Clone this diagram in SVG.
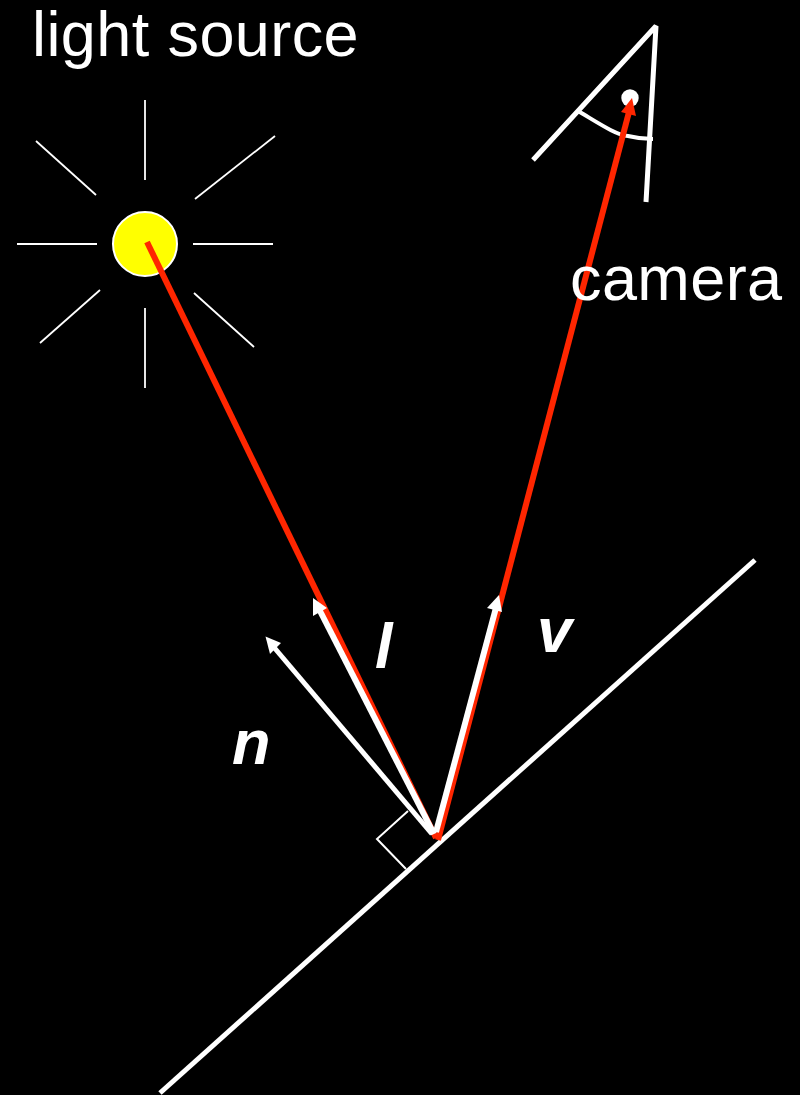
<svg xmlns="http://www.w3.org/2000/svg" width="800" height="1095" viewBox="0 0 800 1095">
<style>
.ray{stroke:#fff;stroke-width:1.8;fill:none}
.w{stroke:#fff;stroke-width:5;fill:none}
.shaft{stroke:#fff;stroke-width:6;fill:none}
.arc{stroke:#fff;stroke-width:4;fill:none}
.thin{stroke:#fff;stroke-width:2;fill:none}
.red{stroke:#ff2600;stroke-width:6;fill:none}
.lab{font-family:"Liberation Sans",Arial,sans-serif;fill:#fff;font-size:63px;letter-spacing:.4px}
.sym{font-family:"Liberation Sans",Arial,sans-serif;fill:#fff;font-size:63px;font-weight:bold;font-style:italic}
</style>
<rect width="800" height="1095" fill="#000"/>
<g id="sun">
<line class="ray" x1="145" y1="100" x2="145" y2="180"/>
<line class="ray" x1="145" y1="308" x2="145" y2="388"/>
<line class="ray" x1="17" y1="244" x2="97" y2="244"/>
<line class="ray" x1="193" y1="244" x2="273" y2="244"/>
<line class="ray" x1="36" y1="141" x2="96" y2="195"/>
<line class="ray" x1="275" y1="136" x2="195" y2="199"/>
<line class="ray" x1="100" y1="290" x2="40" y2="343"/>
<line class="ray" x1="194" y1="293" x2="254" y2="347"/>
<circle cx="145" cy="244" r="32" fill="#ffff00" stroke="#fff" stroke-width="2"/>
</g>
<g id="camera">
<path class="w" d="M533 160L656 26L646 202" stroke-linejoin="bevel"/>
<path class="arc" d="M578 111C600 124 616 135 628 136C636 138 644 139 653 139"/>
<circle cx="630" cy="98" r="8.7" fill="#fff"/>
</g>
<g id="surface">
<line class="w" x1="160" y1="1093" x2="755" y2="560"/>
<path class="thin" d="M408 811L377 839L406 869"/>
</g>
<g id="connectors">
<line class="red" x1="147" y1="242" x2="436" y2="838"/>
<line class="red" x1="438" y1="840" x2="629" y2="112"/>
<polygon points="632,98 636,116 621,112" fill="#ff2600"/>
<line class="w" x1="432" y1="834" x2="272" y2="645"/>
<polygon points="265.500,636.500 281,643 270,654" fill="#fff"/>
<line class="shaft" x1="434" y1="834" x2="319" y2="609"/>
<polygon points="313,598 327,608 313,616" fill="#fff"/>
<line class="shaft" x1="436" y1="832" x2="497" y2="604"/>
<polygon points="499,595 502,612 487,608" fill="#fff"/>
</g>
<g id="labels">
<text class="lab" x="32" y="56">light source</text>
<text class="lab" x="570" y="300">camera</text>
<text class="sym" x="375" y="668">l</text>
<text class="sym" x="537" y="652">v</text>
<text class="sym" x="232" y="764">n</text>
</g>
</svg>
